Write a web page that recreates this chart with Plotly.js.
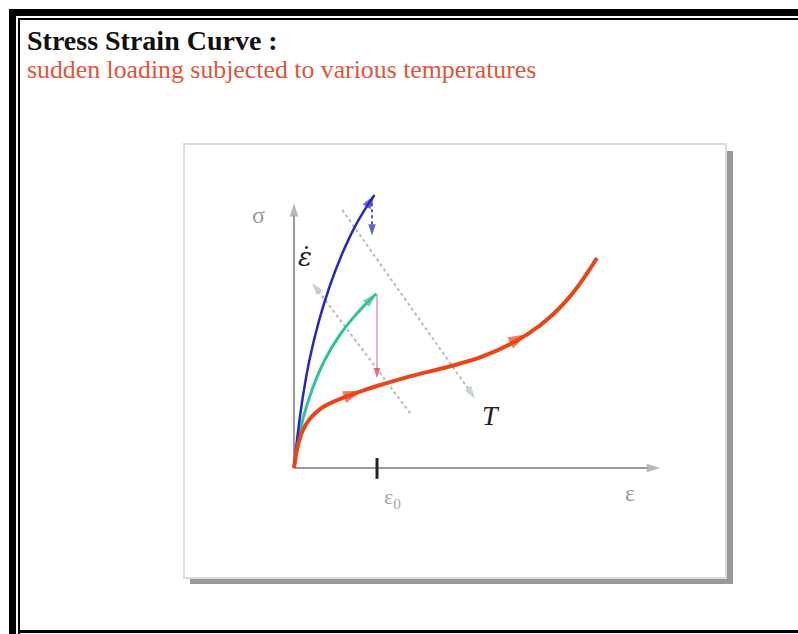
<!DOCTYPE html>
<html>
<head>
<meta charset="utf-8">
<script src="https://cdn.plot.ly/plotly-3.0.1.min.js"></script>
<style>
  html, body { margin: 0; padding: 0; background: #fff; }
  #chart { width: 798px; height: 634px; }
</style>
</head>
<body>
<div id="chart"></div>
<script>
// Strain (x) and stress (y) measured in units of the reference strain ε0.

// Low temperature / high strain rate response (blue)
const blueStrain = [0, 0.05, 0.11, 0.19, 0.30, 0.43, 0.58, 0.73, 0.87, 0.97];
const blueStress = [0, 0.45, 0.88, 1.32, 1.77, 2.19, 2.58, 2.90, 3.14, 3.29];

// Intermediate response (teal)
const tealStrain = [0, 0.04, 0.11, 0.22, 0.37, 0.55, 0.73, 0.88, 0.99];
const tealStress = [0, 0.28, 0.60, 0.95, 1.30, 1.60, 1.83, 1.99, 2.10];

// High temperature response (red), with direction marks along it
const redStrain = [0, 0.04, 0.10, 0.19, 0.33, 0.48, 0.65, 0.82, 1.04, 1.42, 1.86, 2.29, 2.81, 3.12, 3.40, 3.65];
const redStress = [0, 0.24, 0.44, 0.59, 0.72, 0.80, 0.87, 0.93, 1.00, 1.11, 1.22, 1.35, 1.61, 1.85, 2.16, 2.53];
const redArrowAt = [7, 12];

// Stress drop at the reference strain ε0
const dropStrain = [1.0, 1.0];
const dropStress = [2.10, 1.08];

// Small drop at the top of the blue curve
const blueDropStrain = [0.94, 0.94];
const blueDropStress = [3.19, 2.80];

// Direction of increasing temperature T
const tempStrain = [0.58, 2.18];
const tempStress = [3.11, 0.84];

// Direction of increasing strain rate
const rateStrain = [1.40, 0.22];
const rateStress = [0.66, 2.23];

// Axes
const sigmaAxisX = [0, 0], sigmaAxisY = [0, 3.19];
const epsAxisX = [0, 4.41], epsAxisY = [0, 0];
const eps0TickX = [1, 1], eps0TickY = [-0.13, 0.12];

// Text
const titleText = 'Stress Strain Curve :';
const subtitleText = 'sudden loading subjected to various temperatures';

const W = 798, H = 634;
const PXU = 83;           // pixels per strain unit
const OX = 294, OY = 468; // origin position on the page
const fx = v => v / W;
const fy = v => 1 - v / H;

function endArrow(n, size) {
  const s = new Array(n).fill(0);
  s[n - 1] = size;
  return s;
}

function line(x, y, color, width, opts = {}) {
  const n = x.length;
  const sizes = opts.sizes || (opts.arrow ? endArrow(n, opts.arrow) : null);
  const t = {
    type: 'scatter',
    x: x, y: y,
    mode: sizes ? 'lines+markers' : 'lines',
    line: { color: color, width: width, dash: opts.dash || 'solid',
            shape: opts.spline ? 'spline' : 'linear', smoothing: 1 },
    hoverinfo: 'skip',
    showlegend: false
  };
  if (opts.backoff !== undefined) t.line.backoff = opts.backoff;
  if (sizes) {
    t.marker = { symbol: 'arrow', angleref: 'previous', size: sizes,
                 color: opts.headColor || color, line: { width: 0 } };
  }
  return t;
}

const redSizes = new Array(redStrain.length).fill(0);
redArrowAt.forEach(i => { redSizes[i] = 20; });

const traces = [
  line(sigmaAxisX, sigmaAxisY, '#9a9a9a', 2, { arrow: 14 }),
  line(epsAxisX, epsAxisY, '#9a9a9a', 2, { arrow: 14 }),
  line(eps0TickX, eps0TickY, '#222', 3),
  line(tempStrain, tempStress, '#b8b8b8', 2, { dash: 'dot', arrow: 13, headColor: '#a8c4b2' }),
  line(rateStrain, rateStress, '#b8b8b8', 2, { dash: 'dot', arrow: 13 }),
  line(dropStrain, dropStress, '#d86a6a', 1, { arrow: 11, headColor: '#c84050' }),
  line(blueDropStrain, blueDropStress, '#2222b0', 1.5, { dash: 'dot', arrow: 12 }),
  line(tealStrain, tealStress, '#2cc49a', 3, { spline: true, arrow: 15 }),
  line(blueStrain, blueStress, '#2626c4', 2.5, { spline: true, arrow: 15 }),
  line(redStrain, redStress, '#ec4416', 4, { spline: true, sizes: redSizes, backoff: 0 })
];

const shapes = [
  // outer frame
  { type: 'rect', xref: 'paper', yref: 'paper', x0: fx(9), x1: fx(W), y0: fy(9), y1: fy(16), fillcolor: '#000', line: { width: 0 }, layer: 'below' },
  { type: 'rect', xref: 'paper', yref: 'paper', x0: fx(9), x1: fx(16), y0: fy(9), y1: fy(H), fillcolor: '#000', line: { width: 0 }, layer: 'below' },
  { type: 'rect', xref: 'paper', yref: 'paper', x0: fx(18), x1: fx(W), y0: fy(18), y1: fy(20), fillcolor: '#000', line: { width: 0 }, layer: 'below' },
  { type: 'rect', xref: 'paper', yref: 'paper', x0: fx(18), x1: fx(20), y0: fy(18), y1: fy(H), fillcolor: '#000', line: { width: 0 }, layer: 'below' },
  { type: 'rect', xref: 'paper', yref: 'paper', x0: fx(18), x1: fx(W), y0: fy(630), y1: fy(633), fillcolor: '#000', line: { width: 0 }, layer: 'below' },
  // framed panel with drop shadow
  { type: 'rect', xref: 'paper', yref: 'paper', x0: fx(190), x1: fx(733), y0: fy(151), y1: fy(584), fillcolor: '#999', line: { width: 0 }, layer: 'below' },
  { type: 'rect', xref: 'paper', yref: 'paper', x0: fx(184), x1: fx(726), y0: fy(144), y1: fy(578), fillcolor: '#fff', line: { color: '#dcdcdc', width: 2 }, layer: 'below' }
];

const serif = 'Liberation Serif, Times New Roman, serif';
const annotations = [
  { xref: 'paper', yref: 'paper', x: fx(25), y: fy(40), xanchor: 'left', yanchor: 'middle',
    text: '<b>' + titleText + '</b>', showarrow: false, font: { family: serif, size: 28, color: '#111' } },
  { xref: 'paper', yref: 'paper', x: fx(25), y: fy(70), xanchor: 'left', yanchor: 'middle',
    text: subtitleText, showarrow: false, font: { family: serif, size: 25.8, color: '#e0563a' } },
  { x: -0.43, y: 3.05, text: 'σ', showarrow: false, font: { family: serif, size: 24, color: '#9a9a9a' } },
  { x: 4.05, y: -0.30, text: 'ε', showarrow: false, font: { family: serif, size: 24, color: '#9a9a9a' } },
  { x: 1.19, y: -0.36, text: 'ε<sub>0</sub>', showarrow: false, font: { family: serif, size: 22, color: '#a8a8a8' } },
  { x: 0.13, y: 2.54, text: '<i>ε\u0307</i>', showarrow: false, font: { family: 'DejaVu Serif, serif', size: 26, color: '#222' } },
  { x: 2.37, y: 0.63, text: '<i>T</i>', showarrow: false, font: { family: serif, size: 28, color: '#222' } }
];

const layout = {
  width: W, height: H,
  margin: { l: 0, r: 0, t: 0, b: 0 },
  paper_bgcolor: '#fff', plot_bgcolor: 'rgba(0,0,0,0)',
  xaxis: { visible: false, range: [(0 - OX) / PXU, (W - OX) / PXU], fixedrange: true },
  yaxis: { visible: false, range: [(OY - H) / PXU, OY / PXU], fixedrange: true },
  shapes: shapes,
  annotations: annotations,
  showlegend: false
};

Plotly.newPlot('chart', traces, layout, { staticPlot: true, displayModeBar: false });
</script>
</body>
</html>
